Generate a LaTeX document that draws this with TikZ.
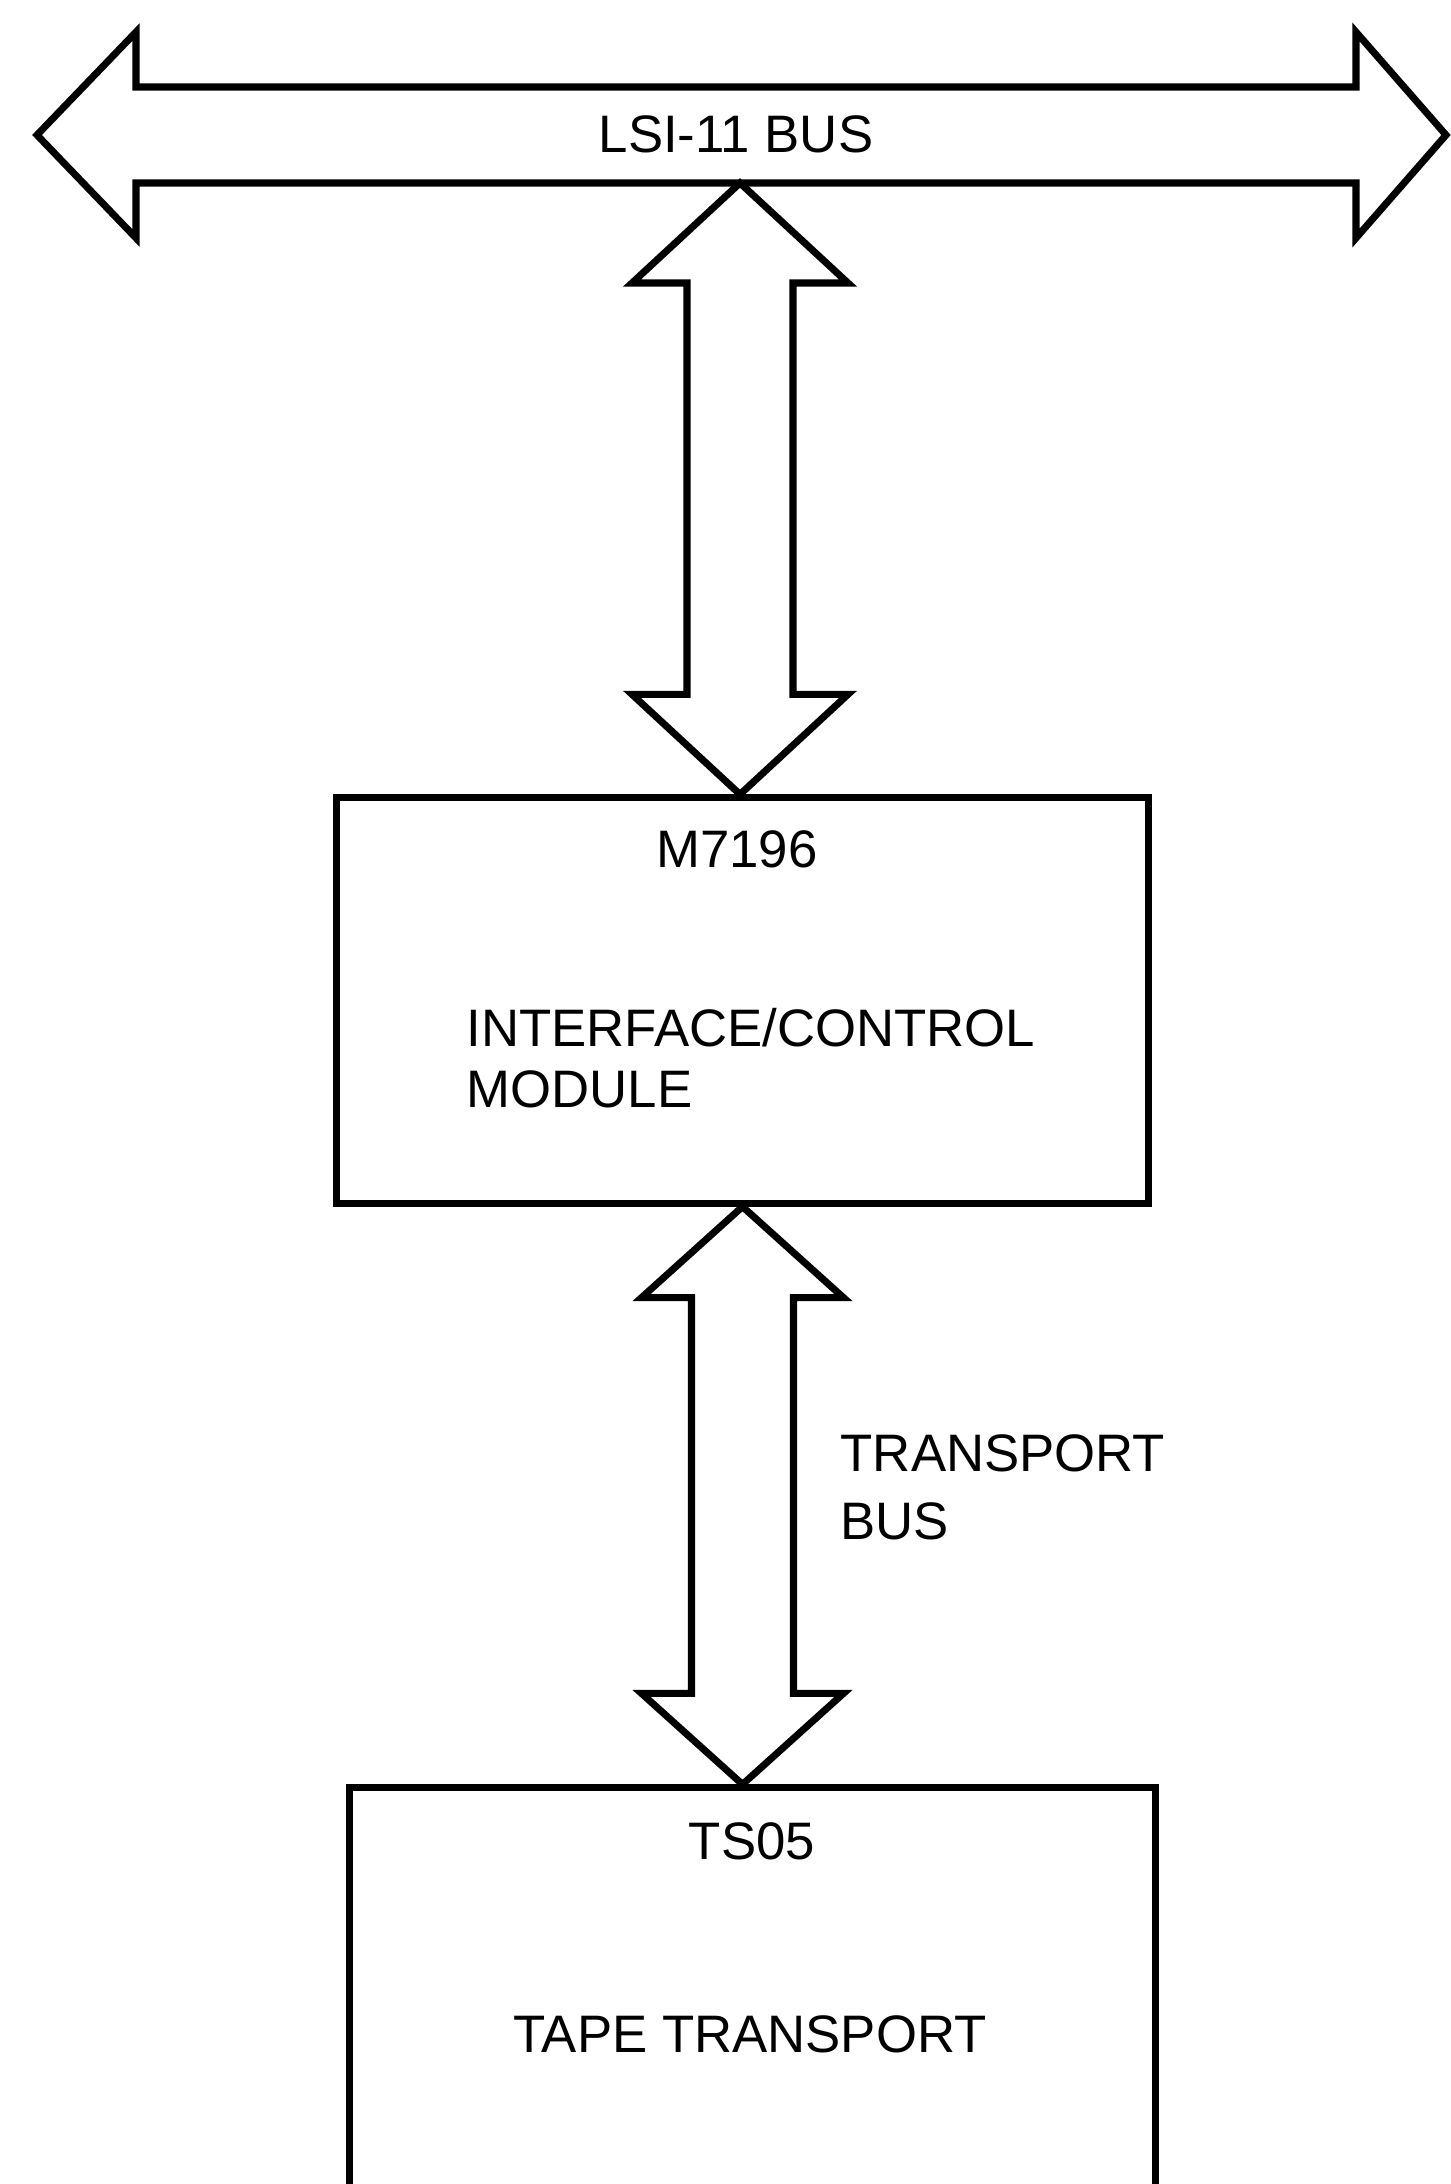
\documentclass[tikz,border=0pt]{standalone}
\usepackage{fontspec}
\setmainfont{Liberation Sans}
\usetikzlibrary{calc}

% fat double-headed bus arrow: from, to, head length, head half width, shaft half width
\newcommand{\fatbus}[5]{%
  \draw[busline] (#1) -- ($(#1)+(#4,#3)$) -- ($(#1)+(#5,#3)$) -- ($(#2)+(#5,-#3)$) -- ($(#2)+(#4,-#3)$) -- (#2)
    -- ($(#2)+(-#4,-#3)$) -- ($(#2)+(-#5,-#3)$) -- ($(#1)+(-#5,#3)$) -- ($(#1)+(-#4,#3)$) -- cycle;}

\begin{document}
\begin{tikzpicture}[x=0.01cm, y=-0.01cm, line join=miter, font=\fontsize{15}{17.4}\selectfont,
  busline/.style={line width=2pt},
  box/.style={draw, line width=2pt, inner sep=0pt},
  lbl/.style={inner sep=0pt}]
  \useasboundingbox (0,0) rectangle (1451,2184);
  \def\shafttop{87} \def\shaftbot{183} \def\headtop{32} \def\headbot{238} % LSI-11 bus outline
  \draw[busline] (37,135) -- (136,\headtop) -- (136,\shafttop) -- (1356,\shafttop) -- (1356,\headtop) -- (1446,135)
    -- (1356,\headbot) -- (1356,\shaftbot) -- (136,\shaftbot) -- (136,\headbot) -- cycle;
  \node[lbl] (lsibus) at (736,134) {LSI-11 BUS};
  \coordinate (bustap) at (740,\shaftbot);
  % M7196
  \node[box, minimum width=8.11cm, minimum height=4.05cm] (m7196) at (742.5,1000.5) {};
  \node[lbl] (m7196id) at (737,849) {M7196};
  \node[lbl, anchor=west, align=left] (m7196txt) at (466,1058) {INTERFACE/CONTROL\\MODULE};
  % TS05
  \node[box, minimum width=8.05cm, minimum height=4.1cm] (ts05) at (752.5,1993) {};
  \node[lbl] (ts05id) at (752,1841) {TS05};
  \node[lbl] (ts05txt) at (750,2034) {TAPE TRANSPORT};
  % buses
  \fatbus{bustap}{bustap |- m7196.north}{100}{108}{53}
  \fatbus{m7196.south}{m7196.south |- ts05.north}{91}{101}{51}
  \node[lbl, anchor=west, align=left, font=\fontsize{15}{19.3}\selectfont] (tbus) at (840,1487) {TRANSPORT\\BUS};
\end{tikzpicture}
\end{document}
